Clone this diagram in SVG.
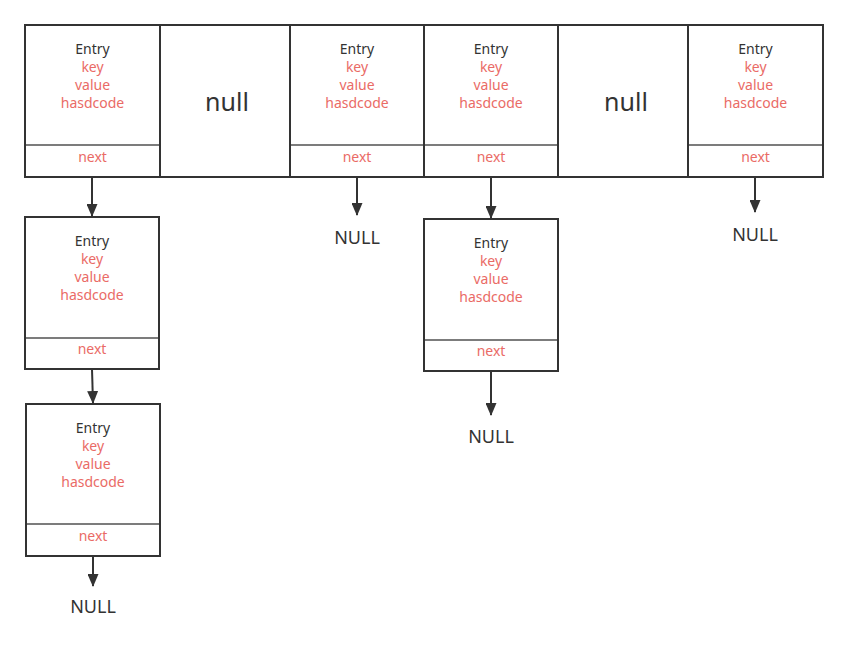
<svg xmlns="http://www.w3.org/2000/svg" width="847" height="650" viewBox="0 0 847 650">
<defs>
<marker id="ah" markerWidth="13" markerHeight="11" refX="12" refY="5.5" orient="auto" markerUnits="userSpaceOnUse" viewBox="0 0 13 11">
<path d="M0,0 L13,5.5 L0,11 Z" fill="#333"/>
</marker>
<style>
.box{fill:#fff;stroke:#333;stroke-width:2}
.div{stroke:#333;stroke-width:1.5;opacity:0.85}
.t{font-family:"Noto Sans","Open Sans","DejaVu Sans",sans-serif;font-size:14px;text-anchor:middle}
.dk{fill:#333}
.rd{fill:#EA6B66}
.nl{font-family:"Noto Sans","Open Sans","DejaVu Sans",sans-serif;font-size:25px;text-anchor:middle;fill:#333}
.NL{font-family:"Noto Sans","Open Sans","DejaVu Sans",sans-serif;font-size:18px;text-anchor:middle;fill:#333}
.c{stroke:#333;stroke-width:2;fill:none;marker-end:url(#ah)}
</style>
</defs>
<rect x="0" y="0" width="847" height="650" fill="#fff"/>
<g id="array">
<rect class="box" x="25" y="25" width="798" height="152"/>
</g>
<g id="e0">
<rect class="box" x="25" y="25" width="135" height="152"/>
<line class="div" x1="25" y1="145" x2="160" y2="145"/>
<text class="t dk" x="92.5" y="54">Entry</text>
<text class="t rd" x="92.5" y="72">key</text>
<text class="t rd" x="92.5" y="90">value</text>
<text class="t rd" x="92.5" y="108">hasdcode</text>
<text class="t rd" x="92.5" y="162">next</text>
</g>
<g id="n1">
<rect class="box" x="160" y="25" width="130" height="152"/>
<text class="nl" x="227" y="111">null</text>
</g>
<g id="e2">
<rect class="box" x="290" y="25" width="134" height="152"/>
<line class="div" x1="290" y1="145" x2="424" y2="145"/>
<text class="t dk" x="357" y="54">Entry</text>
<text class="t rd" x="357" y="72">key</text>
<text class="t rd" x="357" y="90">value</text>
<text class="t rd" x="357" y="108">hasdcode</text>
<text class="t rd" x="357" y="162">next</text>
</g>
<g id="e3">
<rect class="box" x="424" y="25" width="134" height="152"/>
<line class="div" x1="424" y1="145" x2="558" y2="145"/>
<text class="t dk" x="491" y="54">Entry</text>
<text class="t rd" x="491" y="72">key</text>
<text class="t rd" x="491" y="90">value</text>
<text class="t rd" x="491" y="108">hasdcode</text>
<text class="t rd" x="491" y="162">next</text>
</g>
<g id="n4">
<rect class="box" x="558" y="25" width="130" height="152"/>
<text class="nl" x="626" y="111">null</text>
</g>
<g id="e5">
<rect class="box" x="688" y="25" width="135" height="152"/>
<line class="div" x1="688" y1="145" x2="823" y2="145"/>
<text class="t dk" x="755.5" y="54">Entry</text>
<text class="t rd" x="755.5" y="72">key</text>
<text class="t rd" x="755.5" y="90">value</text>
<text class="t rd" x="755.5" y="108">hasdcode</text>
<text class="t rd" x="755.5" y="162">next</text>
</g>
<g id="e0b">
<rect class="box" x="25" y="217" width="134" height="152"/>
<line class="div" x1="25" y1="338" x2="159" y2="338"/>
<text class="t dk" x="92" y="246">Entry</text>
<text class="t rd" x="92" y="264">key</text>
<text class="t rd" x="92" y="282">value</text>
<text class="t rd" x="92" y="300">hasdcode</text>
<text class="t rd" x="92" y="354">next</text>
</g>
<g id="e0c">
<rect class="box" x="26" y="404" width="134" height="152"/>
<line class="div" x1="26" y1="524" x2="160" y2="524"/>
<text class="t dk" x="93" y="433">Entry</text>
<text class="t rd" x="93" y="451">key</text>
<text class="t rd" x="93" y="469">value</text>
<text class="t rd" x="93" y="487">hasdcode</text>
<text class="t rd" x="93" y="541">next</text>
</g>
<g id="e3b">
<rect class="box" x="424" y="219" width="134" height="152"/>
<line class="div" x1="424" y1="340" x2="558" y2="340"/>
<text class="t dk" x="491" y="248">Entry</text>
<text class="t rd" x="491" y="266">key</text>
<text class="t rd" x="491" y="284">value</text>
<text class="t rd" x="491" y="302">hasdcode</text>
<text class="t rd" x="491" y="356">next</text>
</g>
<g id="nulls">
<text class="NL" x="357" y="244">NULL</text>
<text class="NL" x="755" y="241">NULL</text>
<text class="NL" x="491" y="443">NULL</text>
<text class="NL" x="93" y="613">NULL</text>
</g>
<g id="connectors">
<path class="c" d="M92,177 L92,216"/>
<path class="c" d="M92,369 L93,403"/>
<path class="c" d="M93,556 L93,586"/>
<path class="c" d="M357,177 L357,215"/>
<path class="c" d="M491,177 L491,218"/>
<path class="c" d="M491,371 L491,415"/>
<path class="c" d="M755,177 L755,212"/>
</g>
</svg>
